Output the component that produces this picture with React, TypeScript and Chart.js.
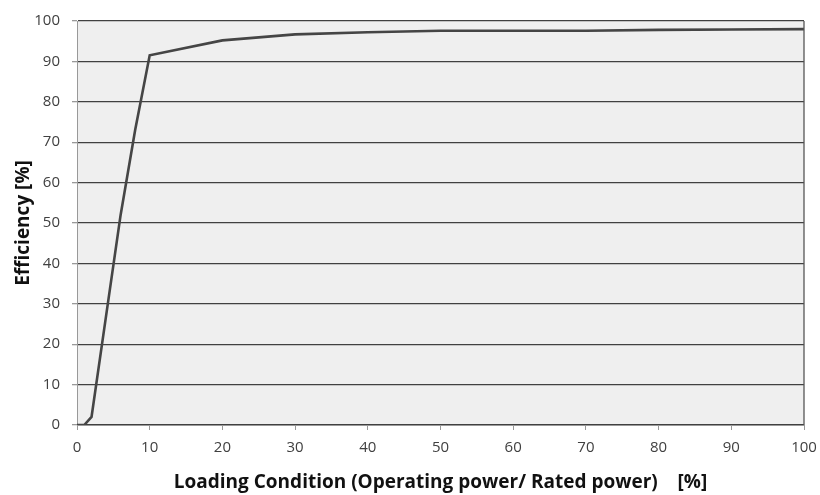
import React, { useEffect, useRef } from "react";
import { Chart, registerables } from "chart.js";

Chart.register(...registerables);

const loadPct = [0, 1, 2, 4, 6, 8, 10, 20, 30, 40, 50, 60, 70, 80, 90, 100];
const efficiency = [0, 0, 2, 27, 52, 73, 91.5, 95.2, 96.7, 97.2, 97.6, 97.6, 97.6, 97.8, 97.9, 98];
const xTitle = "Loading Condition (Operating power/ Rated power)    [%]";
const yTitle = "Efficiency [%]";

const FONT = "'Open Sans', 'Noto Sans', sans-serif";

const bgPlugin = {
  id: "bgPlugin",
  beforeDraw(chart: any) {
    const { ctx, chartArea } = chart;
    ctx.save();
    ctx.fillStyle = "#efefef";
    ctx.fillRect(chartArea.left, chartArea.top, chartArea.right - chartArea.left, chartArea.bottom - chartArea.top);
    ctx.restore();
  },
  afterDatasetsDraw(chart: any) {
    const { ctx, chartArea } = chart;
    ctx.save();
    ctx.strokeStyle = "#555555";
    ctx.lineWidth = 1.3;
    ctx.beginPath();
    ctx.moveTo(chartArea.right, chartArea.top);
    ctx.lineTo(chartArea.right, chartArea.bottom);
    ctx.stroke();
    ctx.restore();
  },
};

export default function App() {
  const ref = useRef<HTMLCanvasElement>(null);
  useEffect(() => {
    const pts = loadPct.map((x, i) => ({ x, y: efficiency[i] }));
    const chart = new Chart(ref.current!, {
      type: "line",
      data: {
        datasets: [
          { data: pts, borderColor: "#454545", borderWidth: 2.6, pointRadius: 0, tension: 0 },
          { data: pts, borderColor: "#a0a0a0", borderWidth: 0.8, pointRadius: 0, tension: 0 },
        ],
      },
      options: {
        animation: false,
        responsive: false,
        maintainAspectRatio: false,
        layout: { padding: { left: 0, top: 21, right: 16, bottom: 0 } },
        plugins: { legend: { display: false }, tooltip: { enabled: false } },
        scales: {
          x: {
            type: "linear",
            min: 0,
            max: 100,
            afterFit: (s: any) => { s.height = 70; s.paddingRight = 0; s.paddingLeft = 0; },
            ticks: { stepSize: 10, color: "#404040", font: { family: FONT, size: 15 }, padding: 9 },
            grid: { drawOnChartArea: false, drawTicks: true, tickLength: 5, tickColor: "#999999" },
            border: { color: "#999999", width: 1 },
            title: { display: true, text: xTitle, color: "#111111", font: { family: FONT, size: 19, weight: "bold" }, padding: { top: 4, bottom: 1 } },
          },
          y: {
            min: 0,
            max: 100,
            afterFit: (s: any) => { s.width = 77; s.paddingTop = 0; s.paddingBottom = 0; },
            ticks: { stepSize: 10, color: "#404040", font: { family: FONT, size: 15 }, padding: 12 },
            grid: { color: "#404040", lineWidth: 1.3, drawTicks: true, tickLength: 5, tickColor: "#999999" },
            border: { color: "#999999", width: 1 },
            title: { display: true, text: yTitle, color: "#111111", font: { family: FONT, size: 19, weight: "bold" }, padding: { top: 12, bottom: 4 } },
          },
        },
      },
      plugins: [bgPlugin],
    });
    return () => chart.destroy();
  }, []);
  return (
    <div style={{ position: "fixed", left: 0, top: 0, width: 820, height: 495, background: "#ffffff" }}>
      <canvas ref={ref} width={820} height={495} style={{ width: 820, height: 495 }} />
    </div>
  );
}
